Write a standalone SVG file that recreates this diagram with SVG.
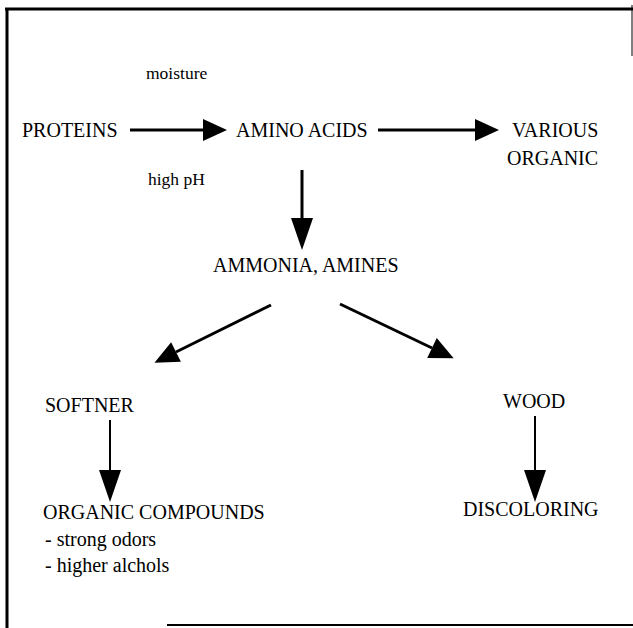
<svg xmlns="http://www.w3.org/2000/svg" width="633" height="628" viewBox="0 0 633 628">
  <style>
    .lbl { font-family: "Liberation Serif", "Times New Roman", serif; font-size: 20px; fill: #000; }
    .small { font-size: 17.5px; }
    .thick { stroke: #000; stroke-width: 3; fill: none; }
    .thin { stroke: #000; stroke-width: 2; fill: none; }
    .frame { stroke: #000; fill: none; }
  </style>
  <defs>
    <!-- short arrowhead for the horizontal and diagonal arrows -->
    <marker id="headShort" markerUnits="userSpaceOnUse" markerWidth="26" markerHeight="24" refX="0" refY="11" orient="auto" overflow="visible">
      <path d="M0,0 L24,11 L0,22 Z" fill="#000"/>
    </marker>
    <!-- long arrowhead for the vertical arrows -->
    <marker id="headLong" markerUnits="userSpaceOnUse" markerWidth="36" markerHeight="24" refX="0" refY="11" orient="auto" overflow="visible">
      <path d="M0,0 L32,11 L0,22 Z" fill="#000"/>
    </marker>
  </defs>

  <rect width="633" height="628" fill="#fff"/>

  <!-- outer frame -->
  <g id="frame">
    <line class="frame" x1="5" y1="9" x2="633" y2="9" stroke-width="3"/>
    <line class="frame" x1="7" y1="8" x2="7" y2="628" stroke-width="3"/>
    <line class="frame" x1="167" y1="625" x2="633" y2="625" stroke-width="2"/>
    <line class="frame" x1="632" y1="5" x2="632" y2="56" stroke-width="1" stroke="#777"/>
  </g>

  <g id="connectors">
    <path class="thick" d="M130,130 L203,130" marker-end="url(#headShort)"/>
    <path class="thick" d="M378,130 L475,130" marker-end="url(#headShort)"/>
    <path class="thick" d="M302,170 L302,218" marker-end="url(#headLong)"/>
    <path class="thick" d="M271,305 L176,352" marker-end="url(#headShort)"/>
    <path class="thick" d="M340,304 L432,348" marker-end="url(#headShort)"/>
    <path class="thin" d="M110,420 L110,470" marker-end="url(#headLong)"/>
    <path class="thin" d="M535,416 L535,470" marker-end="url(#headLong)"/>
  </g>

  <g id="label-moisture"><text class="lbl small" x="146" y="79">moisture</text></g>
  <g id="label-highph"><text class="lbl small" x="148" y="185">high pH</text></g>

  <g id="node-proteins"><text class="lbl" x="22" y="137">PROTEINS</text></g>
  <g id="node-amino-acids"><text class="lbl" x="236" y="137">AMINO ACIDS</text></g>
  <g id="node-various-organic">
    <text class="lbl" x="512" y="137">VARIOUS</text>
    <text class="lbl" x="507" y="165">ORGANIC</text>
  </g>
  <g id="node-ammonia"><text class="lbl" x="213" y="272">AMMONIA, AMINES</text></g>
  <g id="node-softner"><text class="lbl" x="45" y="412">SOFTNER</text></g>
  <g id="node-wood"><text class="lbl" x="503" y="408">WOOD</text></g>
  <g id="node-organic-compounds">
    <text class="lbl" x="43" y="519">ORGANIC COMPOUNDS</text>
    <text class="lbl" x="45" y="546">- strong odors</text>
    <text class="lbl" x="45" y="572">- higher alchols</text>
  </g>
  <g id="node-discoloring"><text class="lbl" x="463" y="516">DISCOLORING</text></g>
</svg>
